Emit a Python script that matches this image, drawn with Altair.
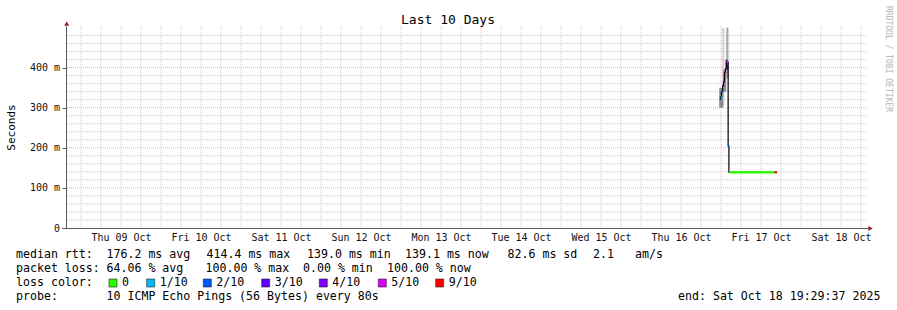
import altair as alt
import pandas as pd

FONT = "DejaVu Sans Mono"
PL, PT = 66, 26          # plot origin inside the 897x310 canvas

# ---------------- data ----------------
med_time = ["2025-10-16T23:30:00", "2025-10-16T23:50:00", "2025-10-17T00:08:00",
            "2025-10-17T00:30:00", "2025-10-17T00:45:00", "2025-10-17T01:02:00",
            "2025-10-17T01:20:00", "2025-10-17T01:38:00", "2025-10-17T02:08:00",
            "2025-10-17T02:22:00", "2025-10-17T16:04:00", "2025-10-17T16:46:00"]
med_ms = [320, 328, 340, 355, 365, 388, 398, 414, 205, 139, 139, 139]
med_loss = ["1/10", "1/10", "2/10", "3/10", "4/10", "5/10", "5/10", "5/10",
            "2/10", "0", "9/10", ""]

smoke_t0 = ["2025-10-17T00:20:00", "2025-10-17T01:34:00", "2025-10-16T23:28:00",
            "2025-10-17T00:40:00", "2025-10-17T01:20:00"]
smoke_t1 = ["2025-10-17T01:04:00", "2025-10-17T02:14:00", "2025-10-17T00:40:00",
            "2025-10-17T01:34:00", "2025-10-17T02:06:00"]
smoke_lo = [305, 374, 300, 340, 395]
smoke_hi = [500, 500, 350, 395, 420]
smoke_band = ["outer", "outer2", "inner", "inner", "core"]

loss_levels = ["0", "1/10", "2/10", "3/10", "4/10", "5/10", "9/10"]
loss_colors = ["#26ff00", "#00b8ff", "#0059ff", "#5e00ff", "#7e00ff", "#dd00ff", "#ff0000"]

y_ticks = [0, 100, 200, 300, 400]
day_label_dates = list(range(9, 19))

title_text = "Last 10 Days"
ylabel = "Seconds"
rtt_label = "median rtt:"
rtt_stats = ["176.2 ms avg", "414.4 ms max", "139.0 ms min", "139.1 ms now", "82.6 ms sd", "2.1", "am/s"]
loss_label = "packet loss:"
loss_stats = ["64.06 % avg", "100.00 % max", "0.00 % min", "100.00 % now"]
color_label = "loss color:"
probe_label = "probe:"
probe_text = "10 ICMP Echo Pings (56 Bytes) every 80s"
end_text = "end: Sat Oct 18 19:29:37 2025"
watermark = "RRDTOOL / TOBI OETIKER"

# ---------------- helpers ----------------
def dt(d, h=0, m=0, s=0):
    return alt.DateTime(year=2025, month=10, date=d, hours=h, minutes=m, seconds=s)

xs = alt.Scale(domain=[dt(8, 19, 29, 37), dt(18, 19, 29, 37)], nice=False)
ys = alt.Scale(domain=[0, 504], nice=False, zero=True)

t_start = pd.Timestamp("2025-10-08T19:29:37")
t_end = pd.Timestamp("2025-10-18T19:29:37")
day_lines = [t.strftime("%Y-%m-%dT%H:%M:%S") for t in pd.date_range("2025-10-09", "2025-10-18", freq="D")]
six_lines = [t.strftime("%Y-%m-%dT%H:%M:%S") for t in pd.date_range("2025-10-08T18:00", "2025-10-18T18:00", freq="6h")
             if t.hour != 0 and t_start < t < t_end]
minor_h = [v for v in range(20, 500, 20) if v % 100]
major_h = [100, 200, 300, 400]

MINOR = "#c8c8c8"
MAJOR = "#ebb0b0"

layers = []

# median (carries the axes) -- first layer
med = pd.DataFrame({"t": med_time, "ms": med_ms, "loss": med_loss})
med["t_next"] = med["t"].shift(-1)
seg = med.iloc[:-1]

axis_layer = alt.Chart(med).mark_line(interpolate="step-after", color="#000000", strokeWidth=1.2, opacity=0).encode(
    x=alt.X("t:T", scale=xs, title=None,
            axis=alt.Axis(orient="bottom", values=[dt(d, 12) for d in day_label_dates], format="%a %d %b",
                          ticks=False, tickSize=0, labelPadding=9, labelBaseline="middle",
                          labelFont=FONT, labelFontSize=10, labelColor="#111111",
                          labelFlush=False, labelOverlap=False, grid=False,
                          domainColor="#5a5a5a", domainWidth=1, zindex=1)),
    y=alt.Y("ms:Q", scale=ys, title=ylabel,
            axis=alt.Axis(orient="left", values=y_ticks,
                          labelExpr="datum.value == 0 ? '0\u00a0\u00a0' : datum.value + ' m'",
                          tickSize=4, tickColor="#5a5a5a", labelPadding=2.5,
                          labelFont=FONT, labelFontSize=10, labelColor="#111111",
                          grid=False, domainColor="#5a5a5a", domainWidth=1, zindex=1,
                          titleFont=FONT, titleFontSize=11, titleFontWeight="normal", titleColor="#000000",
                          titleX=-55, titleY=101, titleAngle=270, titleAlign="center", titleBaseline="middle")))
layers.append(axis_layer)

# grid
layers.append(alt.Chart(pd.DataFrame({"v": minor_h})).mark_rule(color=MINOR, strokeDash=[1, 1], strokeWidth=1)
              .encode(y=alt.Y("v:Q", scale=ys, axis=None)))
layers.append(alt.Chart(pd.DataFrame({"t": six_lines})).mark_rule(color=MINOR, strokeDash=[1, 1], strokeWidth=1)
              .encode(x=alt.X("t:T", scale=xs, axis=None)))
layers.append(alt.Chart(pd.DataFrame({"v": major_h})).mark_rule(color=MAJOR, strokeDash=[1, 1], strokeWidth=1)
              .encode(y=alt.Y("v:Q", scale=ys, axis=None)))
layers.append(alt.Chart(pd.DataFrame({"t": day_lines})).mark_rule(color=MAJOR, strokeDash=[1, 1], strokeWidth=1)
              .encode(x=alt.X("t:T", scale=xs, axis=None)))

# smoke
smoke = pd.DataFrame({"t0": smoke_t0, "t1": smoke_t1, "lo": smoke_lo, "hi": smoke_hi, "band": smoke_band})
layers.append(alt.Chart(smoke).mark_rect().encode(
    x=alt.X("t0:T", scale=xs, axis=None), x2="t1:T",
    y=alt.Y("lo:Q", scale=ys, axis=None), y2="hi:Q",
    fill=alt.Fill("band:N", legend=None,
                  scale=alt.Scale(domain=["outer", "outer2", "inner", "core"],
                                  range=["#d6d6d6", "#a8a8a8", "#8c8c8c", "#4a4a4a"]))))

# median black step line + loss-coloured segments
layers.append(alt.Chart(med).mark_line(interpolate="step-after", color="#000000", strokeWidth=1.2).encode(
    x=alt.X("t:T", scale=xs, axis=None), y=alt.Y("ms:Q", scale=ys, axis=None)))
layers.append(alt.Chart(seg).mark_rule(strokeWidth=2.2).encode(
    x=alt.X("t:T", scale=xs, axis=None), x2="t_next:T",
    y=alt.Y("ms:Q", scale=ys, axis=None),
    color=alt.Color("loss:N", legend=None, scale=alt.Scale(domain=loss_levels, range=loss_colors))))

# axis arrows
one = pd.DataFrame({"a": [0]})
layers.append(alt.Chart(one).mark_point(shape="triangle-up", filled=True, size=25, color="#9a1c1c", opacity=1)
              .encode(x=alt.value(0.7), y=alt.value(-2.3)))
layers.append(alt.Chart(one).mark_point(shape="triangle-right", filled=True, size=25, color="#9a1c1c", opacity=1)
              .encode(x=alt.value(804.5), y=alt.value(202.5)))
layers.append(alt.Chart(one).mark_rule(color="#5a5a5a", strokeWidth=1)
              .encode(x=alt.value(-4), x2=alt.value(803), y=alt.value(202.5)))


def txt(s, x, y, size=11.6, align="left", color="#000000", angle=0):
    return alt.Chart(pd.DataFrame({"s": [s]})).mark_text(
        font=FONT, fontSize=size, align=align, baseline="middle", color=color, angle=angle
    ).encode(text="s:N", x=alt.value(x - PL), y=alt.value(y - PT))


layers.append(txt(title_text, 448, 19.5, size=13, align="center"))
layers.append(txt(watermark, 888, 59, size=8, align="center", color="#b4b4b4", angle=90))

# legend line 1
L1 = 255
layers.append(txt(rtt_label, 16, L1))
for s, x in zip(rtt_stats, [106.5, 206.5, 307, 405, 507.5, 593, 635]):
    layers.append(txt(s, x, L1))
# legend line 2
L2 = 269
layers.append(txt(loss_label, 16, L2))
for s, x in zip(loss_stats, [106.5, 205.5, 303, 387]):
    layers.append(txt(s, x, L2))
# legend line 3
L3 = 283
layers.append(txt(color_label, 16, L3))
box_x = [109, 146.7, 203.3, 261.7, 319.3, 378.3, 435.7]
for lvl, col, bx in zip(loss_levels, loss_colors, box_x):
    layers.append(alt.Chart(one).mark_rect(color=col, stroke="#202020", strokeWidth=0.6).encode(
        x=alt.value(bx - PL), x2=alt.value(bx + 8 - PL), y=alt.value(L3 - 4 - PT), y2=alt.value(L3 + 4 - PT)))
    layers.append(txt(lvl, bx + 13, L3))
# legend line 4
L4 = 297
layers.append(txt(probe_label, 16, L4))
layers.append(txt(probe_text, 106.5, L4))
layers.append(txt(end_text, 678, L4))

chart = alt.layer(*layers).resolve_scale(color="independent", fill="independent").resolve_axis(
    x="independent", y="independent"
).properties(
    width=800, height=202,
    padding={"left": PL, "top": PT, "right": 897 - PL - 800, "bottom": 310 - PT - 202},
    autosize=alt.AutoSizeParams(type="none"),
    background="white",
).configure_view(stroke=None)

chart.save("out.html", embed_options={"renderer": "svg", "actions": False})
